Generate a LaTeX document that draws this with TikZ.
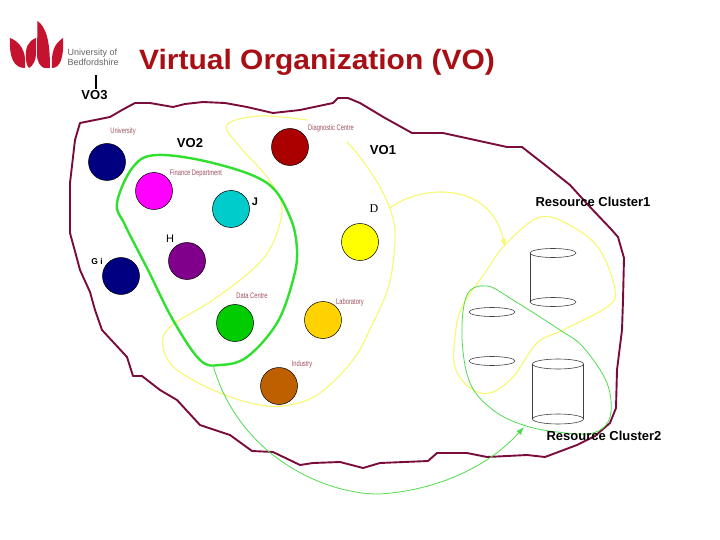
\documentclass[tikz,border=0pt]{standalone}
\usepackage{fontspec}
\setmainfont{Liberation Sans}
\newfontfamily\serifface{Liberation Serif}
\usetikzlibrary{arrows.meta}
\definecolor{logored}{HTML}{C4122F}
\definecolor{titlered}{HTML}{A80F14}
\definecolor{outerline}{HTML}{7A0C3C}
\definecolor{paleyellow}{HTML}{F8F870}
\definecolor{vogreen}{HTML}{2FE02F}
\definecolor{thingreen}{HTML}{50DC50}
\definecolor{smalltext}{HTML}{A05060}
\tikzset{
  x=1pt,y=-1pt,
  site/.style={circle,draw=black,line width=0.5pt,minimum size=37pt,inner sep=0pt},
  tiny/.style={text=smalltext,font=\fontsize{8}{9}\selectfont,inner sep=0pt,xscale=0.72},
  bigl/.style={font=\bfseries\fontsize{13}{14}\selectfont,inner sep=0pt},
  disk/.style={draw=black!75,line width=0.6pt},
  pale/.style={draw=paleyellow,line width=1.1pt},
  thin green/.style={draw=thingreen,line width=0.8pt},
}
\begin{document}
\begin{tikzpicture}
\useasboundingbox[fill=white] (0,0) rectangle (720,540);
% logo
\fill[logored] (10,38) .. controls (18,41) and (24,48) .. (25,58) .. controls (25,62) and (25,65) .. (25,68) .. controls (14,68) and (9,58) .. (10,38) -- cycle;
\fill[logored] (36,38) .. controls (28,41) and (25,48) .. (26,58) .. controls (26,62) and (27,66) .. (29,68) .. controls (33,66) and (36,60) .. (36,54) -- cycle;
\fill[logored] (37.5,21) .. controls (46,27) and (50,40) .. (50,68) -- (44,68) .. controls (40,66) and (37,62) .. (37,54) -- cycle;
\fill[logored] (63,38) .. controls (64,58) and (60,68) .. (52,68) .. controls (51,52) and (54,44) .. (63,38) -- cycle;
\node[inner sep=0pt,anchor=west,text=black!60,font=\fontsize{9}{10}\selectfont,align=left] (logotext) at (67.5,57.5) {University of\\Bedfordshire};
\node[inner sep=0pt,text=titlered,font=\bfseries\fontsize{28}{30}\selectfont,anchor=west,xscale=1.07] (title) at (139,62) {Virtual Organization (VO)};
% outer boundary
\draw[outerline,line width=1.9pt,line join=round] (80,123)--(95,120)--(110,117)--(122,110)--(135,103)--(150,103)--(173,107)--(185,104)--(203,102)--(225,103)--(247,107)--(273,113)--(300,110)--(333,103)--(338,98)--(348,98)--(360,103)--(385,118)--(412,133)--(443,133)--(475,140)--(507,147)--(522,147)--(545,165)--(570,185)--(590,207)--(610,228)--(618,237)--(624,258)--(623,300)--(622,330)--(617,370)--(616,408)--(610,423)--(595,436)--(577,445)--(545,457)--(527,455)--(487,457)--(467,453)--(437,453)--(428,461)--(380,463)--(363,468)--(340,462)--(313,463)--(300,465)--(273,452)--(252,451)--(230,435)--(200,425)--(177,400)--(160,390)--(142,376)--(133,376)--(127,357)--(102,330)--(95,310)--(90,292)--(80,270)--(76,255)--(70,233)--(70,183)--(75,140)--cycle;
% VO1
\draw[pale] plot[smooth,tension=0.6] coordinates {(347,142)(360,157)(380,187)(392,215)(395,240)(389,285)(372,325)(353,360)(320,393)(290,405)(260,405)(220,393)(177,370)(163,347)(170,327)(213,300)(252,270)(272,245)(282,207)(267,177)(240,147)(227,125)(260,116)(307,120)};
% VO2
\draw[vogreen,line width=2.4pt] plot[smooth cycle,tension=0.6] coordinates {(117,203)(133,167)(157,155)(213,163)(267,183)(290,217)(297,250)(293,280)(277,323)(247,357)(220,365)(200,360)(173,320)(148,270)(125,225)};
% cluster 1
\draw[pale] plot[smooth cycle,tension=0.6] coordinates {(505,245)(540,217)(573,227)(600,250)(615,290)(607,307)(563,330)(537,343)(513,377)(490,393)(470,388)(455,367)(455,337)(462,307)(487,270)};
% cluster 2
\draw[thin green] plot[smooth cycle,tension=0.6] coordinates {(487,286)(467,295)(462,337)(470,383)(493,410)(523,425)(557,432)(593,433)(610,417)(607,383)(583,347)(560,330)(513,300)};
% sites
\node[site,fill={rgb,255:red,0;green,0;blue,128}] (university) at (107,162) {};
\node[site,fill={rgb,255:red,255;green,0;blue,255}] (finance) at (154,191) {};
\node[site,fill={rgb,255:red,0;green,204;blue,204}] (jsite) at (231,209) {};
\node[site,fill={rgb,255:red,128;green,0;blue,140}] (hsite) at (187,261) {};
\node[site,fill={rgb,255:red,0;green,0;blue,128}] (gsite) at (121,276) {};
\node[site,fill={rgb,255:red,0;green,204;blue,0}] (data) at (235,323) {};
\node[site,fill={rgb,255:red,255;green,210;blue,0}] (lab) at (323,320) {};
\node[site,fill={rgb,255:red,190;green,96;blue,0}] (industry) at (279,386) {};
\node[site,fill={rgb,255:red,170;green,0;blue,0}] (diag) at (290,147) {};
\node[site,fill={rgb,255:red,255;green,255;blue,0}] (dsite) at (360,242) {};
% labels
\node[tiny] (lu) at (123,131) {University};
\node[tiny] (lf) at (196,173) {Finance Department};
\node[tiny] (ld) at (331,128) {Diagnostic Centre};
\node[tiny] (ldc) at (252,296) {Data Centre};
\node[tiny] (ll) at (350,302) {Laboratory};
\node[tiny] (li) at (302,364) {Industry};
\node[bigl] (vo3) at (94.5,95.5) {VO3};
\coordinate (vo3top) at (96,75);
\draw[black,line width=1.3pt] (vo3top) -- (96,89);
\node[bigl] (vo2) at (190,143) {VO2};
\node[bigl] (vo1) at (383,150) {VO1};
\node[bigl] (rc1) at (593,202) {Resource Cluster1};
\node[bigl] (rc2) at (604,436) {Resource Cluster2};
\node[inner sep=0pt,font=\bfseries\fontsize{11}{12}\selectfont] (lj) at (255,202) {J};
\node[inner sep=0pt,font=\serifface\fontsize{12}{13}\selectfont] (lD) at (374,209) {D};
\node[inner sep=0pt,font=\fontsize{11}{12}\selectfont] (lh) at (170,239) {H};
\node[inner sep=0pt,font=\bfseries\fontsize{8.5}{10}\selectfont] (lg) at (97,261) {G i};
% cylinders
\draw[disk] (553,253) ellipse [x radius=23,y radius=4.5];
\draw[disk] (553,302) ellipse [x radius=23,y radius=4.5];
\draw[disk] (530,253) -- (530,302);
\draw[disk] (492,312) ellipse [x radius=23,y radius=4.5];
\draw[disk] (492,361) ellipse [x radius=23,y radius=4.5];
\draw[disk] (558,364) ellipse [x radius=25.5,y radius=5];
\draw[disk] (558,419) ellipse [x radius=25.5,y radius=5];
\draw[disk] (532.5,364) -- (532.5,419);
\draw[disk] (583.5,364) -- (583.5,419);
% arrows
\coordinate (a1s) at (390,208);
\coordinate (a1e) at (505,247);
\draw[pale,-{Latex[length=8pt,width=6pt]}] (a1s) .. controls (420,185) and (490,180) .. (a1e);
\coordinate (a2s) at (213,365);
\coordinate (a2e) at (524,427);
\draw[thin green,-{Latex[length=8pt,width=6pt]}] (a2s) .. controls (240,460) and (330,495) .. (380,494) .. controls (440,490) and (490,465) .. (a2e);
\end{tikzpicture}
\end{document}
